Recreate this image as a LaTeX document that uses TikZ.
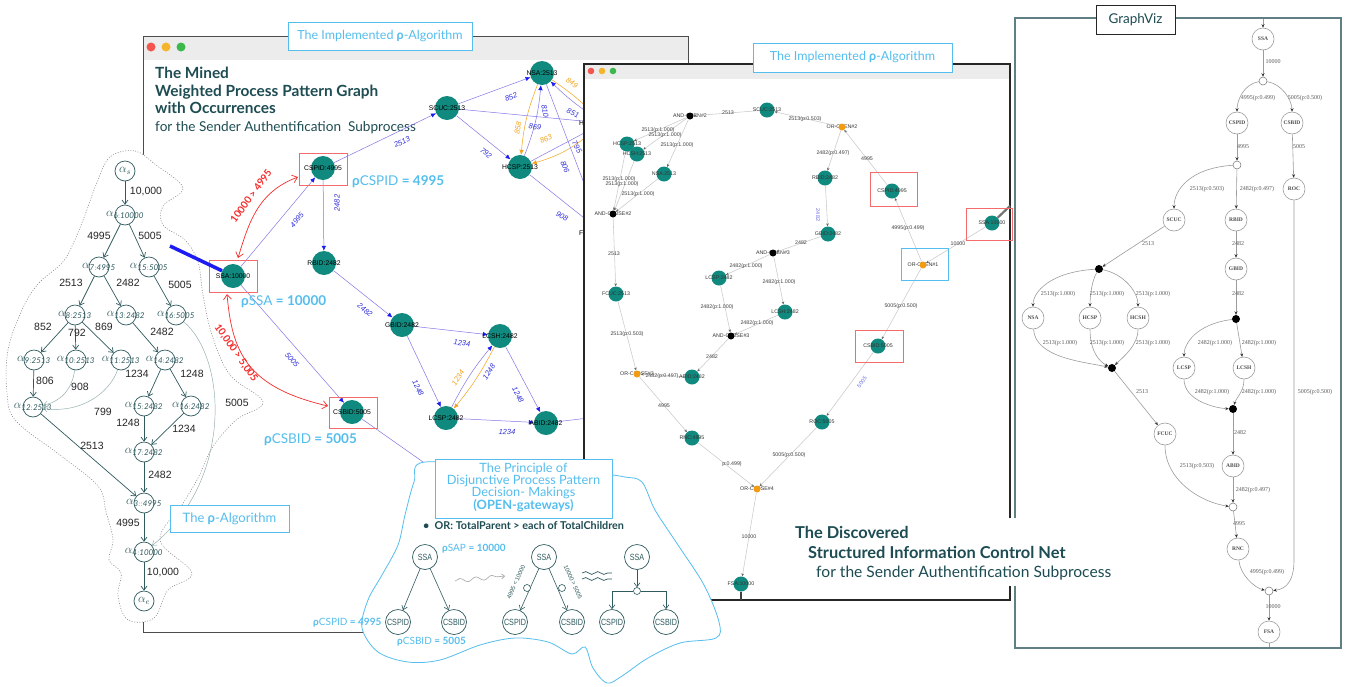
\documentclass[tikz,border=0pt]{standalone}
\usepackage{fontspec}
\setmainfont{Lato}
\newfontfamily\labfont{Liberation Sans}
\newfontfamily\gvfont{Liberation Serif}
\usetikzlibrary{arrows.meta,decorations.pathmorphing}

\definecolor{nodeteal}{HTML}{10897E}
\definecolor{darkteal}{HTML}{1D4C52}
\definecolor{treeline}{HTML}{2F5A5E}
\definecolor{treethin}{HTML}{8FA9AB}
\definecolor{skyblue}{HTML}{55BEEE}
\definecolor{edgeviolet}{HTML}{8576E6}
\definecolor{arrowblue}{HTML}{1C1CF2}
\definecolor{labblue}{HTML}{3131DA}
\definecolor{orangeedge}{HTML}{F2A41E}
\definecolor{gateorange}{HTML}{F39C12}
\definecolor{annred}{HTML}{F62B2B}
\definecolor{boxred}{HTML}{F36B6B}
\definecolor{gvgray}{HTML}{9C9C9C}
\definecolor{wingray}{HTML}{CACACA}
\definecolor{barfill}{HTML}{ECECEC}
\definecolor{framegray}{HTML}{607F84}
\definecolor{dotred}{HTML}{F2564E}
\definecolor{dotyellow}{HTML}{F4B42B}
\definecolor{dotgreen}{HTML}{3CB94A}

\tikzset{
  % pattern-graph window
  tnode/.style={circle, fill=nodeteal, minimum size=24pt, inner sep=0pt},
  tname/.style={font=\labfont\fontsize{6.8}{7}\selectfont, text=black, inner sep=0pt},
  wedge/.style={draw=edgeviolet, line width=0.5pt, -{Latex[length=5pt,width=4.5pt,color=arrowblue]}},
  oedge/.style={draw=orangeedge, line width=0.5pt, -{Latex[length=5pt,width=4.5pt]}},
  elab/.style={font=\labfont\itshape\fontsize{7.5}{8}\selectfont, text=labblue, inner sep=0pt},
  olab/.style={elab, text=orangeedge},
  redbox/.style={draw=boxred, line width=0.8pt},
  bluebox/.style={draw=skyblue, line width=0.8pt},
  rho/.style={font=\fontsize{13.5}{15}\selectfont, text=skyblue, anchor=west, inner sep=0pt},
  rhos/.style={font=\fontsize{10}{12}\selectfont, text=skyblue, anchor=west, inner sep=0pt},
  redlab/.style={font=\bfseries\fontsize{10}{11}\selectfont, text=annred, inner sep=0pt},
  redcurve/.style={draw=annred, line width=0.7pt, {Straight Barb[length=5pt,width=8pt]}-{Straight Barb[length=5pt,width=8pt]}},
  ttlb/.style={font=\bfseries\fontsize{15.4}{17}\selectfont, text=darkteal, anchor=base west, inner sep=0pt},
  ttlr/.style={font=\fontsize{13.6}{16}\selectfont, text=darkteal, anchor=base west, inner sep=0pt},
  tagbox/.style={font=\fontsize{12.5}{14}\selectfont, text=skyblue, inner sep=0pt},
  % discovered-net window
  mnode/.style={circle, fill=nodeteal, minimum size=15pt, inner sep=0pt},
  mand/.style={circle, fill=black, minimum size=7pt, inner sep=0pt},
  mor/.style={circle, fill=gateorange, minimum size=7pt, inner sep=0pt},
  mname/.style={font=\labfont\fontsize{5.3}{6}\selectfont, text=black!80, inner sep=0pt},
  medge/.style={draw=wingray, line width=0.55pt, -{Stealth[length=3pt,width=2.6pt,color=black!60]}},
  mlab/.style={font=\labfont\fontsize{5.3}{6}\selectfont, text=black!75, inner sep=0pt},
  mblue/.style={font=\labfont\fontsize{5.5}{6}\selectfont, text=labblue!70, inner sep=0pt},
  % rho tree
  anode/.style={circle, draw=treeline, line width=0.7pt, minimum size=20pt, inner sep=0pt},
  alab/.style={font=\fontsize{12}{12}\selectfont, text=treeline, inner sep=0pt},
  aedge/.style={draw=treeline, line width=0.7pt, -{Straight Barb[length=4pt,width=6pt]}},
  athin/.style={draw=treethin, line width=0.45pt, -{Straight Barb[length=4pt,width=6pt]}},
  anum/.style={font=\labfont\fontsize{10.5}{11}\selectfont, text=black!85, inner sep=0pt},
  % small principle sketches
  sdn/.style={circle, draw=treeline, line width=0.7pt, minimum size=25pt, inner sep=0pt, font=\labfont\fontsize{9}{9}\selectfont, text=treeline},
  sde/.style={draw=treeline, line width=0.6pt, -{Straight Barb[length=4pt,width=6pt]}},
  sdo/.style={circle, draw=treeline, fill=white, line width=0.6pt, minimum size=7pt, inner sep=0pt},
  % GraphViz
  gvn/.style={circle, draw=gvgray, line width=0.6pt, minimum size=22pt, inner sep=0pt, font=\gvfont\bfseries\fontsize{5.5}{6}\selectfont, text=black!70},
  gvo/.style={circle, draw=black!55, fill=white, line width=0.5pt, minimum size=8pt, inner sep=0pt},
  gvd/.style={circle, fill=black, minimum size=8pt, inner sep=0pt},
  gve/.style={draw=gvgray, line width=0.6pt, -{Stealth[length=3.5pt,width=3pt,color=black!80]}},
  gvl/.style={font=\gvfont\fontsize{6}{6}\selectfont, text=black!65, inner sep=0pt},
}
\newcommand{\sq}[1]{\scalebox{0.8}[1]{#1}}

\begin{document}
\begin{tikzpicture}[x=1pt,y=-1pt]
\useasboundingbox (0,0) rectangle (1347,686);
\fill[white] (0,0) rectangle (1347,686);

% ================= window: mined pattern graph =================
\draw[black!70, line width=1pt, fill=white] (143,36) rectangle (688,632);
\fill[barfill] (143.5,36.5) rectangle (687.5,60);
\fill[dotred] (151,47) circle (4.5);
\fill[dotyellow] (166,47) circle (4.5);
\fill[dotgreen] (181,47) circle (4.5);

\node[ttlb] (ta) at (155,78) {The Mined};
\node[ttlb] (tb) at (155,96) {Weighted Process Pattern Graph};
\node[ttlb] (tc) at (155,113.5) {with Occurrences};
\node[ttlr] (td) at (155,131) {for the Sender Authentification\ \ Subprocess};

% nodes
\node[tnode] (ssa1) at (233,276) {};
\node[tnode] (cspid1) at (323,168) {};
\node[tnode] (scuc1) at (447,108) {};
\node[tnode] (nsa1) at (542,73) {};
\node[tnode] (hcsp1) at (520,167) {};
\node[tnode] (rbid1) at (324,263) {};
\node[tnode] (gbid1) at (402,325) {};
\node[tnode] (lcsh1) at (500,336) {};
\node[tnode] (lcsp1) at (446,418) {};
\node[tnode] (abid1) at (546,423) {};
\node[tnode] (csbid1) at (352,412) {};
\node[tnode] (hcsh1) at (603,123) {};
\node[tnode] (fcuc1) at (603,233) {};
\coordinate (rnc1) at (640,412);
\coordinate (roc1) at (470,495);

% edges
\draw[wedge] (ssa1) -- (cspid1);
\draw[wedge] (ssa1) -- (csbid1);
\draw[wedge] (cspid1) -- (rbid1);
\draw[wedge] (cspid1) -- (scuc1);
\draw[wedge] (rbid1) -- (gbid1);
\draw[wedge] (gbid1) -- (lcsh1);
\draw[wedge] (gbid1) -- (lcsp1);
\draw[wedge] (lcsp1) to[bend left=6] (lcsh1);
\draw[oedge] (lcsh1) to[bend left=6] (lcsp1);
\draw[wedge] (lcsh1) -- (abid1);
\draw[wedge] (lcsp1) -- (abid1);
\draw[draw=edgeviolet, line width=0.5pt] (abid1) -- (rnc1);
\draw[draw=edgeviolet, line width=0.5pt] (csbid1) -- (roc1);
\draw[wedge] (scuc1) -- (nsa1);
\draw[wedge] (scuc1) -- (hcsp1);
\draw[wedge] (scuc1) -- (hcsh1);
\draw[wedge] (hcsh1) to[bend left=5] (nsa1);
\draw[oedge] (nsa1) to[bend left=5] (hcsh1);
\draw[oedge] (nsa1) to[bend right=8] (hcsp1);
\draw[wedge] (hcsp1) to[bend right=8] (nsa1);
\draw[oedge] (hcsh1) to[bend left=12] (hcsp1);
\draw[wedge] (hcsp1) -- (hcsh1);
\draw[wedge] (nsa1) -- (fcuc1);
\draw[wedge] (hcsp1) -- (fcuc1);

% node names
\node[tname] at (ssa1) {SSA:10000};
\node[tname] at (cspid1) {CSPID:4995};
\node[tname] at (scuc1) {SCUC:2513};
\node[tname] at (nsa1) {NSA:2513};
\node[tname] at (hcsp1) {HCSP:2513};
\node[tname] at (rbid1) {RBID:2482};
\node[tname] at (gbid1) {GBID:2482};
\node[tname] at (lcsh1) {LCSH:2482};
\node[tname] at (lcsp1) {LCSP:2482};
\node[tname] at (abid1) {ABID:2482};
\node[tname] at (csbid1) {CSBID:5005};
\node[tname, anchor=west] at (579,123) {HCSH:2513};
\node[tname, anchor=west] at (579,233) {FCUC:2513};

% edge weights
\node[elab, rotate=26] at (402,142) {2513};
\node[elab, rotate=50] at (297,220) {4995};
\node[elab, rotate=90] at (337,203) {2482};
\node[elab, rotate=-49] at (292,360) {5005};
\node[elab, rotate=-38] at (365,310) {2482};
\node[elab, rotate=-6] at (462,343) {1234};
\node[elab, rotate=-64] at (418,388) {1248};
\node[olab, rotate=57] at (458,378) {1234};
\node[elab, rotate=57] at (489,372) {1248};
\node[elab, rotate=-62] at (518,395) {1248};
\node[elab, rotate=-2] at (507,432) {1234};
\node[elab, rotate=20] at (511,97) {852};
\node[elab, rotate=-39] at (486,153) {792};
\node[elab, rotate=-25] at (573,113) {851};
\node[olab, rotate=-35] at (572,83) {849};
\node[olab, rotate=80] at (518,128) {858};
\node[elab, rotate=-8] at (535,127) {869};
\node[elab, rotate=-80] at (545,111) {810};
\node[olab, rotate=25] at (546,139) {863};
\node[elab, rotate=-60] at (577,147) {795};
\node[elab, rotate=-70] at (565,167) {806};
\node[elab, rotate=-30] at (562,216) {908};

% annotation boxes and curves
\draw[redbox] (299,153) rectangle (347,185);
\draw[redbox] (209,260) rectangle (257,292);
\draw[redbox] (329,397) rectangle (377,428);
\coordinate (ra1) at (238,258);
\coordinate (ra2) at (298,177);
\coordinate (rb1) at (227,294);
\coordinate (rb2) at (328,406);
\draw[redcurve] (ra1) .. controls (249,222) and (258,192) .. (ra2);
\draw[redcurve] (rb1) .. controls (232,350) and (245,387) .. (rb2);
\node[redlab, rotate=54] at (251,196) {10000 > 4995};
\node[redlab, rotate=-55] at (236,353) {10,000 > 5,005};

\node[rho] at (352,182) {{\bfseries ρ}CSPID {\bfseries = 4995}};
\node[rho] at (241,302) {{\bfseries ρ}SSA {\bfseries = 10000}};
\node[rho] at (264,440) {{\bfseries ρ}CSBID {\bfseries = 5005}};

% ================= window: discovered control net =================
\draw[black!85, line width=1.2pt, fill=white] (584,64) rectangle (1010,600);
\fill[barfill] (584.6,64.6) rectangle (1009.4,79);
\fill[dotred] (591,71) circle (3.3);
\fill[dotyellow] (602,71) circle (3.3);
\fill[dotgreen] (613,71) circle (3.3);

\node[mnode] (scuc2) at (767,110) {};
\node[mnode] (hcsp2) at (627,144) {};
\node[mnode] (hcsh2) at (637,154) {};
\node[mnode] (nsa2) at (664,174) {};
\node[mnode] (rbid2) at (825,178) {};
\node[mnode] (cspid2) at (892,191) {};
\node[mnode] (ssa2) at (992,223) {};
\node[mnode] (gbid2) at (828,234) {};
\node[mnode] (lcsp2) at (719,278) {};
\node[mnode] (fcuc2) at (616,294) {};
\node[mnode] (lcsh2) at (785,312) {};
\node[mnode] (abid2) at (692,377) {};
\node[mnode] (csbid2) at (878,346) {};
\node[mnode] (roc2) at (822,422) {};
\node[mnode] (rnc2) at (692,438) {};
\node[mnode] (fsa2) at (741,584) {};
\coordinate (ando2) at (690,116);
\coordinate (oro2) at (842,127);
\coordinate (andc2) at (613,214);
\coordinate (ando3) at (773,253);
\coordinate (oro1) at (923,265);
\coordinate (andc3) at (731,336);
\coordinate (orc3) at (637,374);
\coordinate (orc4) at (757,489);
\node[mname] at (ando2) {AND-OPEN\#2};
\node[mname] at (oro2) {OR-OPEN\#2};
\node[mname] at (andc2) {AND-CLOSE\#2};
\node[mname] at (ando3) {AND-OPEN\#3};
\node[mname] at (oro1) {OR-OPEN\#1};
\node[mname] at (andc3) {AND-CLOSE\#3};
\node[mname] at (orc3) {OR-CLOSE\#3};
\node[mname] at (orc4) {OR-CLOSE\#4};
\node[mand] (gando2) at (ando2) {};
\node[mor] (goro2) at (oro2) {};
\node[mand] (gandc2) at (andc2) {};
\node[mand] (gando3) at (ando3) {};
\node[mor] (goro1) at (oro1) {};
\node[mand] (gandc3) at (andc3) {};
\node[mor] (gorc3) at (orc3) {};
\node[mor] (gorc4) at (orc4) {};
\coordinate (ssaexit) at (1010,206);
\coordinate (fsaexit) at (741,600);

\draw[medge] (ssa2) -- (goro1);
\draw[medge] (goro1) -- (cspid2);
\draw[medge] (goro1) -- (csbid2);
\draw[medge] (cspid2) -- (goro2);
\draw[medge] (goro2) -- (scuc2);
\draw[medge] (goro2) -- (rbid2);
\draw[medge] (scuc2) -- (gando2);
\draw[medge] (gando2) -- (hcsp2);
\draw[medge] (gando2) -- (hcsh2);
\draw[medge] (gando2) -- (nsa2);
\draw[medge] (hcsp2) -- (gandc2);
\draw[medge] (hcsh2) -- (gandc2);
\draw[medge] (nsa2) -- (gandc2);
\draw[medge] (gandc2) -- (fcuc2);
\draw[medge] (fcuc2) -- (gorc3);
\draw[medge] (rbid2) -- (gbid2);
\draw[medge] (gbid2) -- (gando3);
\draw[medge] (gando3) -- (lcsp2);
\draw[medge] (gando3) -- (lcsh2);
\draw[medge] (lcsp2) -- (gandc3);
\draw[medge] (lcsh2) -- (gandc3);
\draw[medge] (gandc3) -- (abid2);
\draw[medge] (abid2) -- (gorc3);
\draw[medge] (gorc3) -- (rnc2);
\draw[medge] (rnc2) -- (gorc4);
\draw[medge] (csbid2) -- (roc2);
\draw[medge] (roc2) -- (gorc4);
\draw[medge] (gorc4) -- (fsa2);
\draw[black!55, line width=2.2pt] (ssa2) -- (ssaexit);
\draw[black!75, line width=2.4pt] (fsa2) -- (fsaexit);

\node[mname] at (scuc2) {SCUC:2513};
\node[mname] at (hcsp2) {HCSP:2513};
\node[mname] at (hcsh2) {HCSH:2513};
\node[mname] at (nsa2) {NSA:2513};
\node[mname] at (rbid2) {RBID:2482};
\node[mname] at (cspid2) {CSPID:4995};
\node[mname] at (ssa2) {SSA:10000};
\node[mname] at (gbid2) {GBID:2482};
\node[mname] at (lcsp2) {LCSP:2482};
\node[mname] at (fcuc2) {FCUC:2513};
\node[mname] at (lcsh2) {LCSH:2482};
\node[mname] at (abid2) {ABID:2482};
\node[mname] at (csbid2) {CSBID:5005};
\node[mname] at (roc2) {ROC:5005};
\node[mname] at (rnc2) {RNC:4995};
\node[mname] at (fsa2) {FSA:10000};

\node[mlab] at (958,244) {10000};
\node[mlab] at (908,228) {4995(p:0.499)};
\node[mlab] at (901,306) {5005(p:0.500)};
\node[mlab] at (867,159) {4995};
\node[mlab] at (805,119) {2513(p:0.503)};
\node[mlab] at (833,153) {2482(p:0.497)};
\node[mlab] at (728,113) {2513};
\node[mlab] at (658,130) {2513(p:1.000)};
\node[mlab] at (665,135) {2513(p:1.000)};
\node[mlab] at (677,145) {2513(p:1.000)};
\node[mlab] at (619,179) {2513(p:1.000)};
\node[mlab] at (622,184) {2513(p:1.000)};
\node[mlab] at (638,194) {2513(p:1.000)};
\node[mlab] at (614,254) {2513};
\node[mlab] at (627,334) {2513(p:0.503)};
\node[mblue, rotate=-90] at (818,215) {2482};
\node[mlab] at (801,243) {2482};
\node[mlab] at (746,266) {2482(p:1.000)};
\node[mlab] at (779,282) {2482(p:1.000)};
\node[mlab] at (717,307) {2482(p:1.000)};
\node[mlab] at (757,323) {2482(p:1.000)};
\node[mlab] at (712,357) {2482};
\node[mlab] at (662,376) {2482(p:0.497)};
\node[mlab] at (664,406) {4995};
\node[mlab] at (732,464) {p:0.499)};
\node[mblue, rotate=54] at (862,382) {5005};
\node[mlab] at (789,455) {5005(p:0.500)};
\node[mlab] at (749,537) {10000};

\draw[redbox] (870,172) rectangle (917,206);
\draw[redbox] (966,208) rectangle (1012,240);
\draw[redbox] (855,330) rectangle (903,362);
\draw[bluebox] (901,248) rectangle (948,280);

% tags over the window frames
\draw[bluebox, fill=white] (288,22) rectangle (472,50);
\node[tagbox] (tag1) at (380,36.5) {The Implemented {\bfseries ρ}-Algorithm};
\draw[bluebox, fill=white] (753,43) rectangle (952,72);
\node[tagbox] (tag2) at (852.5,57.5) {The Implemented {\bfseries ρ}-Algorithm};

% ================= rho tree =================
\draw[black!45, line width=0.6pt, dash pattern=on 1pt off 1.6pt, fill=white]
  plot[smooth cycle, tension=0.6] coordinates {(110,157) (135,151) (156,165) (183,188) (163,206) (163,225) (185,240) (198,262) (203,295) (212,335) (230,375) (263,402) (236,420) (212,448) (198,478) (182,505) (160,540) (192,573) (168,590) (154,618) (128,620) (118,596) (121,573) (109,560) (113,540) (106,512) (98,486) (60,455) (16,421) (7,393) (8,350) (22,310) (38,284) (62,263) (73,244) (85,215) (96,185)};

\node[anode] (as) at (125,171) {};
\node[anode] (a6) at (125,215) {};
\node[anode] (a7) at (99,267) {};
\node[anode] (a15) at (149,267) {};
\node[anode] (a8) at (75,315) {};
\node[anode] (a13) at (126,315) {};
\node[anode] (a16) at (176,315) {};
\node[anode] (a9) at (34,360) {};
\node[anode] (a10) at (76,360) {};
\node[anode] (a11) at (121,360) {};
\node[anode] (a14) at (165,360) {};
\node[anode] (a12) at (33,407) {};
\node[anode] (a15b) at (144,406) {};
\node[anode] (a16b) at (191,406) {};
\node[anode] (a17) at (144,452) {};
\node[anode] (a3) at (144,503) {};
\node[anode] (a4) at (144,552) {};
\node[anode] (ae) at (144,601) {};

\node[alab] at (as) {$\alpha_s$};
\node[alab] at (a6) {$\alpha_{\mathit{6:10000}}$};
\node[alab] at (a7) {$\alpha_{\mathit{7:4995}}$};
\node[alab] at (a15) {$\alpha_{\mathit{15:5005}}$};
\node[alab] at (a8) {$\alpha_{\mathit{8:2513}}$};
\node[alab] at (a13) {$\alpha_{\mathit{13:2482}}$};
\node[alab] at (a16) {$\alpha_{\mathit{16:5005}}$};
\node[alab] at (a9) {$\alpha_{\mathit{9:2513}}$};
\node[alab] at (a10) {$\alpha_{\mathit{10:2513}}$};
\node[alab] at (a11) {$\alpha_{\mathit{11:2513}}$};
\node[alab] at (a14) {$\alpha_{\mathit{14:2482}}$};
\node[alab] at (a12) {$\alpha_{\mathit{12:2513}}$};
\node[alab] at (a15b) {$\alpha_{\mathit{15:2482}}$};
\node[alab] at (a16b) {$\alpha_{\mathit{16:2482}}$};
\node[alab] at (a17) {$\alpha_{\mathit{17:2482}}$};
\node[alab] at (a3) {$\alpha_{\mathit{3::4995}}$};
\node[alab] at (a4) {$\alpha_{\mathit{4:10000}}$};
\node[alab] at (ae) {$\alpha_e$};

\draw[aedge] (as) -- (a6);
\draw[aedge] (a6) -- (a7);
\draw[aedge] (a6) -- (a15);
\draw[aedge] (a7) -- (a8);
\draw[aedge] (a7) -- (a13);
\draw[aedge] (a15) -- (a16);
\draw[aedge] (a8) -- (a9);
\draw[aedge] (a8) -- (a10);
\draw[aedge] (a8) -- (a11);
\draw[aedge] (a13) -- (a14);
\draw[aedge] (a9) -- (a12);
\draw[athin] (a10) .. controls (72,390) and (60,402) .. (a12);
\draw[athin] (a11) .. controls (110,392) and (82,414) .. (a12);
\draw[aedge] (a14) -- (a15b);
\draw[aedge] (a14) -- (a16b);
\draw[aedge] (a15b) -- (a17);
\draw[aedge] (a16b) -- (a17);
\draw[aedge] (a12) -- (a3);
\draw[aedge] (a17) -- (a3);
\draw[aedge] (a3) -- (a4);
\draw[athin] (a16) .. controls (228,360) and (232,482) .. (a4);
\draw[aedge] (a4) -- (ae);

\node[anum] at (146,192) {10,000};
\node[anum] at (99,236) {4995};
\node[anum] at (150,236) {5005};
\node[anum] at (71,283) {2513};
\node[anum] at (128,283) {2482};
\node[anum] at (180,285) {5005};
\node[anum] at (43,327) {852};
\node[anum] at (77,333) {792};
\node[anum] at (104,327) {869};
\node[anum] at (162,332) {2482};
\node[anum] at (45,381) {806};
\node[anum] at (80,387) {908};
\node[anum] at (103,412) {799};
\node[anum] at (137,374) {1234};
\node[anum] at (192,374) {1248};
\node[anum] at (128,423) {1248};
\node[anum] at (184,429) {1234};
\node[anum] at (92,446) {2513};
\node[anum] at (160,475) {2482};
\node[anum] at (128,523) {4995};
\node[anum] at (237,403) {5005};
\node[anum] at (163,572) {10,000};

% link from the tree into the pattern graph
\coordinate (treelink) at (170,246);
\draw[arrowblue, line width=3.5pt] (treelink) -- (ssa1);

\draw[bluebox, fill=white] (170,505) rectangle (289,532);
\node[tagbox, font=\fontsize{13}{14}\selectfont] (tag3) at (229.5,518.5) {The {\bfseries ρ}-Algorithm};

% ================= principle cloud =================
\draw[skyblue, line width=0.8pt, fill=white]
  plot[smooth cycle, tension=0.55] coordinates {(425,462) (414,482) (405,515) (398,545) (382,575) (368,600) (362,628) (378,652) (408,662) (440,660) (480,645) (515,638) (548,642) (572,654) (585,647) (593,668) (607,683) (622,676) (648,658) (680,643) (716,638) (719,622) (704,585) (678,545) (655,510) (642,482) (625,477) (600,474) (520,470)};
\draw[bluebox, fill=white] (435,459) rectangle (612,518);
\node[font=\fontsize{12.8}{12}\selectfont, text=skyblue, align=center, inner sep=0pt] (ptitle) at (523.5,487.5)
  {The Principle of\\Disjunctive Process Pattern\\Decision- Makings\\{\bfseries (OPEN-gateways)}};
\node[font=\bfseries\fontsize{10.8}{12}\selectfont, text=darkteal, anchor=west, inner sep=0pt] (prule) at (423,526)
  {•\ \ OR: TotalParent > each of TotalChildren};

% sketch 1
\node[sdn] (s1) at (425,557) {\sq{SSA}};
\node[sdn] (s1a) at (398,622) {\sq{CSPID}};
\node[sdn] (s1b) at (454,622) {\sq{CSBID}};
\draw[sde] (s1) -- (s1a);
\draw[sde] (s1) -- (s1b);
\node[rhos] at (442,549) {{\bfseries ρ}SAP {\bfseries = 10000}};
\node[rhos] at (313,623) {{\bfseries ρ}CSPID {\bfseries = 4995}};
\node[rhos] at (397,642) {{\bfseries ρ}CSBID {\bfseries = 5005}};

% wavy transition arrow
\coordinate (wv1) at (455,581);
\coordinate (wv2) at (505,576);
\draw[black!35, line width=0.6pt, decorate, decoration={snake, amplitude=2pt, segment length=16pt, post length=4pt}, -{Straight Barb[length=3pt,width=5pt]}] (wv1) -- (wv2);

% sketch 2
\node[sdn] (s2) at (544,557) {\sq{SSA}};
\node[sdn] (s2a) at (515,622) {\sq{CSPID}};
\node[sdn] (s2b) at (572,622) {\sq{CSBID}};
\draw[sde] (s2) -- (s2a);
\draw[sde] (s2) -- (s2b);
\node[sdo] (s2oa) at (527,588) {};
\node[sdo] (s2ob) at (562,588) {};
\node[font=\labfont\fontsize{6}{6}\selectfont, text=treeline, rotate=66, inner sep=0pt] at (516,582) {4995 < 10000};
\node[font=\labfont\fontsize{6}{6}\selectfont, text=treeline, rotate=-66, inner sep=0pt] at (573,582) {10000 > 5005};

% approximately-equal waves
\coordinate (wa1) at (582,573);
\coordinate (wa2) at (612,573);
\coordinate (wb1) at (582,579);
\coordinate (wb2) at (612,579);
\draw[treeline, line width=0.7pt, decorate, decoration={snake, amplitude=1.4pt, segment length=12pt}] (wa1) -- (wa2);
\draw[treeline, line width=0.7pt, decorate, decoration={snake, amplitude=1.4pt, segment length=12pt}] (wb1) -- (wb2);

% sketch 3
\node[sdn] (s3) at (637,557) {\sq{SSA}};
\node[sdo] (s3o) at (637,591) {};
\node[sdn] (s3a) at (612,622) {\sq{CSPID}};
\node[sdn] (s3b) at (666,622) {\sq{CSBID}};
\coordinate (s3l) at (612,591);
\coordinate (s3r) at (666,591);
\draw[sde] (s3) -- (s3o);
\draw[treeline, line width=0.6pt] (s3o) -- (s3l);
\draw[treeline, line width=0.6pt] (s3o) -- (s3r);
\draw[sde] (s3l) -- (s3a);
\draw[sde] (s3r) -- (s3b);

% ================= GraphViz panel =================
\draw[framegray, line width=1.2pt, fill=white] (1015,18) rectangle (1341,648);
\node[gvn] (gssa) at (1263,39) {SSA};
\node[gvo] (go1) at (1263,81) {};
\node[gvn] (gcspid) at (1237,123) {CSPID};
\node[gvn] (gcsbid) at (1292,123) {CSBID};
\node[gvo] (go2) at (1237,165) {};
\node[gvn] (groc) at (1294,189) {ROC};
\node[gvn] (gscuc) at (1174,220) {SCUC};
\node[gvn] (grbid) at (1236,220) {RBID};
\node[gvn] (ggbid) at (1236,269) {GBID};
\node[gvd] (gd1) at (1099,269) {};
\node[gvd] (gd2) at (1236,319) {};
\node[gvn] (gnsa) at (1033,318) {NSA};
\node[gvn] (ghcsp) at (1090,318) {HCSP};
\node[gvn] (ghcsh) at (1138,318) {HCSH};
\node[gvd] (gd3) at (1112,368) {};
\node[gvn] (glcsp) at (1184,368) {LCSP};
\node[gvn] (glcsh) at (1244,368) {LCSH};
\node[gvd] (gd4) at (1233,409) {};
\node[gvn] (gfcuc) at (1165,434) {FCUC};
\node[gvn] (gabid) at (1233,466) {ABID};
\node[gvo] (go3) at (1233,507) {};
\node[gvn] (grnc) at (1238,549) {RNC};
\node[gvo] (go4) at (1269,591) {};
\node[gvn] (gfsa) at (1269,632) {FSA};
\coordinate (gin) at (1263,19);
\coordinate (gout) at (1269,647);
\coordinate (gbend) at (1294,560);

\draw[gve] (gin) -- (gssa);
\draw[gve] (gssa) -- (go1);
\draw[gve] (go1) .. controls (1244,84) and (1237,100) .. (gcspid);
\draw[gve] (go1) .. controls (1282,84) and (1292,100) .. (gcsbid);
\draw[gve] (gcspid) -- (go2);
\draw[gve] (gcsbid) -- (groc);
\draw[gve] (go2) .. controls (1190,168) and (1174,190) .. (gscuc);
\draw[gve] (go2) -- (grbid);
\draw[gve] (gscuc) -- (gd1);
\draw[gve] (grbid) -- (ggbid);
\draw[gve] (ggbid) -- (gd2);
\draw[gve] (gd1) .. controls (1050,272) and (1033,292) .. (gnsa);
\draw[gve] (gd1) .. controls (1092,280) and (1090,296) .. (ghcsp);
\draw[gve] (gd1) .. controls (1124,274) and (1138,292) .. (ghcsh);
\draw[gve] (gnsa) .. controls (1035,358) and (1085,362) .. (gd3);
\draw[gve] (ghcsp) .. controls (1090,352) and (1100,362) .. (gd3);
\draw[gve] (ghcsh) .. controls (1138,346) and (1122,358) .. (gd3);
\draw[gve] (gd3) -- (gfcuc);
\draw[gve] (gd2) .. controls (1196,324) and (1184,344) .. (glcsp);
\draw[gve] (gd2) -- (glcsh);
\draw[gve] (glcsp) .. controls (1184,400) and (1214,408) .. (gd4);
\draw[gve] (glcsh) .. controls (1244,392) and (1236,398) .. (gd4);
\draw[gve] (gd4) -- (gabid);
\draw[gve] (gfcuc) .. controls (1165,480) and (1200,502) .. (go3);
\draw[gve] (gabid) -- (go3);
\draw[gve] (go3) -- (grnc);
\draw[gve] (grnc) .. controls (1240,575) and (1255,588) .. (go4);
\draw[gve] (groc) -- (gbend) .. controls (1294,580) and (1287,589) .. (go4);
\draw[gve] (go4) -- (gfsa);
\draw[gvgray, line width=0.6pt] (gfsa) -- (gout);

\node[gvl] at (1273,62) {10000};
\node[gvl] at (1258,98) {4995(p:0.499)};
\node[gvl] at (1305,98) {5005(p:0.500)};
\node[gvl] at (1243,147) {4995};
\node[gvl] at (1299,147) {5005};
\node[gvl] at (1207,189) {2513(p:0.503)};
\node[gvl] at (1257,189) {2482(p:0.497)};
\node[gvl] at (1148,244) {2513};
\node[gvl] at (1238,244) {2482};
\node[gvl] at (1238,294) {2482};
\node[gvl] at (1058,294) {2513(p:1.000)};
\node[gvl] at (1107,294) {2513(p:1.000)};
\node[gvl] at (1153,294) {2513(p:1.000)};
\node[gvl] at (1060,343) {2513(p:1.000)};
\node[gvl] at (1107,343) {2513(p:1.000)};
\node[gvl] at (1153,343) {2513(p:1.000)};
\node[gvl] at (1215,343) {2482(p:1.000)};
\node[gvl] at (1259,343) {2482(p:1.000)};
\node[gvl] at (1142,392) {2513};
\node[gvl] at (1212,392) {2482(p:1.000)};
\node[gvl] at (1259,392) {2482(p:1.000)};
\node[gvl] at (1315,392) {5005(p:0.500)};
\node[gvl] at (1240,433) {2482};
\node[gvl] at (1197,466) {2513(p:0.503)};
\node[gvl] at (1253,490) {2482(p:0.497)};
\node[gvl] at (1239,524) {4995};
\node[gvl] at (1267,572) {4995(p:0.499)};
\node[gvl] at (1273,607) {10000};

\draw[black!85, line width=0.8pt, fill=white] (1096,5) rectangle (1175,34);
\node[font=\fontsize{13.5}{14}\selectfont, text=darkteal, inner sep=0pt] (gvtag) at (1135.5,19.5) {GraphViz};

% caption of the discovered net, laid over both frames
\fill[white] (790,518) rectangle (1108,586);
\node[font=\bfseries\fontsize{16.4}{18}\selectfont, text=darkteal, anchor=base west, inner sep=0pt] (da) at (795,538) {The Discovered};
\node[font=\bfseries\fontsize{16.4}{18}\selectfont, text=darkteal, anchor=base west, inner sep=0pt] (db) at (808,558) {Structured Information Control Net};
\node[font=\fontsize{15.6}{18}\selectfont, text=darkteal, anchor=base west, inner sep=0pt] (dc) at (816,577) {for the Sender Authentification Subprocess};

\end{tikzpicture}
\end{document}
